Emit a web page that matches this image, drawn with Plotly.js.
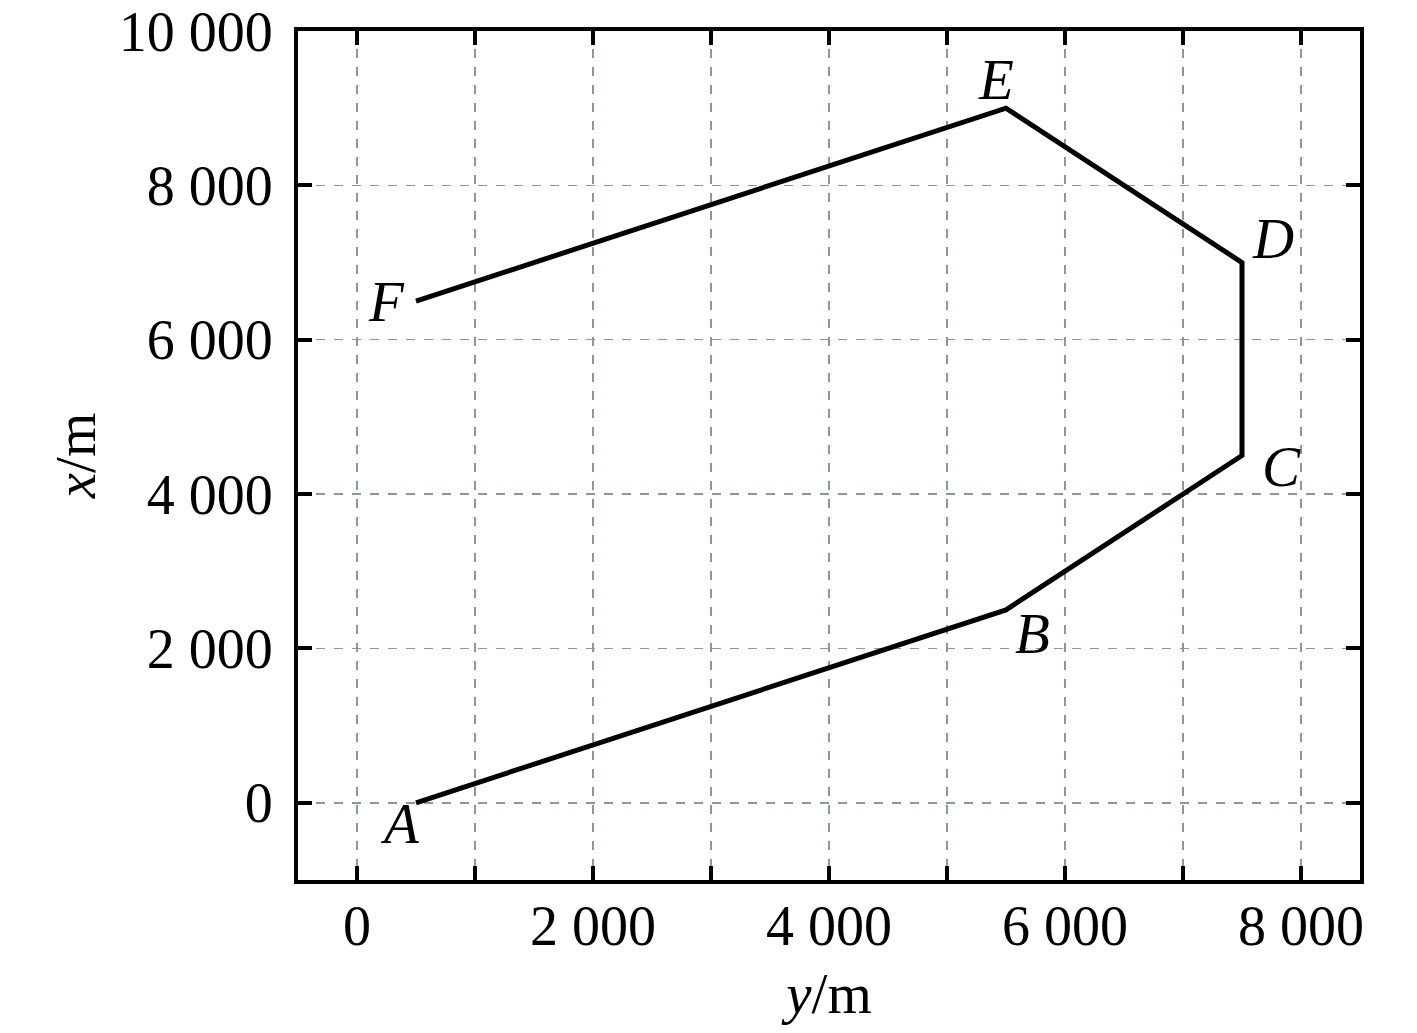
<!DOCTYPE html>
<html>
<head>
<meta charset="utf-8">
<script src="https://cdn.plot.ly/plotly-3.0.1.min.js"></script>
<style>html,body{margin:0;padding:0;background:#fff;}#chart{width:1417px;height:1033px;}</style>
</head>
<body>
<div id="chart"></div>
<script>
// Path points (y in m horizontal, x in m vertical)
const pointNames = ["A", "B", "C", "D", "E", "F"];
const yValues = [500, 5500, 7500, 7500, 5500, 500];
const xValues = [0, 2500, 4500, 7000, 9000, 6500];

const xTickVals = [0, 1000, 2000, 3000, 4000, 5000, 6000, 7000, 8000];
const xTickText = ["0", "", "2 000", "", "4 000", "", "6 000", "", "8 000"];
const yTickVals = [0, 2000, 4000, 6000, 8000, 10000];
const yTickText = ["0", "2 000", "4 000", "6 000", "8 000", "10 000"];

// label offsets in px (style only)
const labelShifts = [[-16, -21], [26, -24], [39, -11], [31, 24], [-10, 29], [-30, 0]];

const FONT = "Liberation Serif, Times New Roman, serif";
const FS = 57;
const TFS = 56;

const trace = {
  x: yValues, y: xValues, mode: "lines", type: "scatter",
  line: {color: "#000", width: 5}, hoverinfo: "skip", showlegend: false, cliponaxis: false
};

const annotations = pointNames.map((n, i) => ({
  x: yValues[i], y: xValues[i], xref: "x", yref: "y",
  text: "<i>" + n + "</i>", showarrow: false,
  xshift: labelShifts[i][0], yshift: labelShifts[i][1],
  font: {family: FONT, size: FS, color: "#000"}
}));

const axisCommon = {
  showline: true, linecolor: "#000", linewidth: 4, mirror: "ticks",
  ticks: "inside", ticklen: 14, tickwidth: 4, tickcolor: "#000",
  showgrid: true, gridcolor: "#8a9898", gridwidth: 1.5, griddash: "dash",
  zeroline: false, tickmode: "array", ticklabeloverflow: "allow",
  tickfont: {family: FONT, size: TFS, color: "#000"}
};

const layout = {
  width: 1417, height: 1033,
  margin: {l: 298, r: 57, t: 31, b: 153},
  paper_bgcolor: "#fff", plot_bgcolor: "#fff",
  xaxis: Object.assign({}, axisCommon, {
    range: [-500, 8500], tickvals: xTickVals, ticktext: xTickText,
    ticklabelstandoff: -6,
    title: {text: "<i>y</i>/m", font: {family: FONT, size: FS, color: "#000"}, standoff: 18}
  }),
  yaxis: Object.assign({}, axisCommon, {
    range: [-1000, 10000], tickvals: yTickVals, ticktext: yTickText,
    ticklabelstandoff: 10,
    title: {text: "<i>x</i>/m", font: {family: FONT, size: FS, color: "#000"}, standoff: 6}
  }),
  annotations: annotations
};

Plotly.newPlot("chart", [trace], layout, {displayModeBar: false, staticPlot: true});
</script>
</body>
</html>
